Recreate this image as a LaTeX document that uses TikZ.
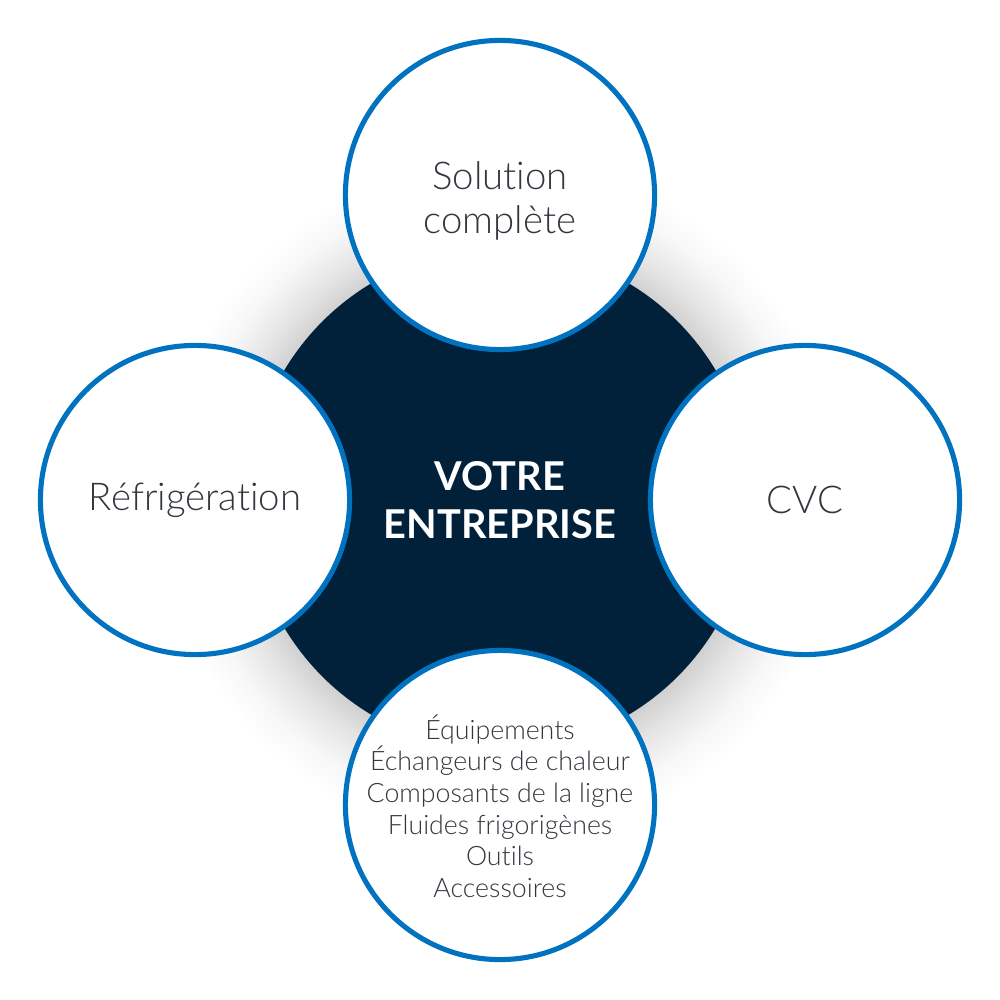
\documentclass[tikz,border=0pt]{standalone}
\usepackage{fontspec}
\newfontfamily\lightf{Lato Light}[Ligatures={NoCommon}]
\newfontfamily\headf{Lato Bold}[Ligatures={NoCommon}]
\definecolor{navy}{RGB}{1,32,58}
\definecolor{ringblue}{RGB}{0,114,192}
\definecolor{txtgray}{RGB}{50,55,61}
\definecolor{gA}{RGB}{208,208,208}
\definecolor{gB}{RGB}{228,228,228}
\definecolor{gC}{RGB}{247,247,247}
\pgfdeclareradialshading{glowshade}{\pgfpoint{0bp}{0bp}}{color(0bp)=(gA); color(18.4bp)=(gA); color(20.3bp)=(gB); color(22.8bp)=(gC); color(25bp)=(white); color(50bp)=(white)}
\tikzset{
  petal/.style={circle, draw=ringblue, line width=1.45pt, fill=white, minimum size=3.09cm, inner sep=0pt},
  lbl/.style={text=txtgray, align=center, inner sep=0pt},
  bigtxt/.style={lbl, font=\lightf\fontsize{10.9}{12.5}\selectfont},
  smalltxt/.style={lbl, font=\lightf\fontsize{7.6}{9}\selectfont},
  headtxt/.style={text=white, align=center, inner sep=0pt, font=\headf\fontsize{11.3}{13.7}\selectfont}
}
\begin{document}
\begin{tikzpicture}[x=0.01cm,y=-0.01cm]
\useasboundingbox (0,0) rectangle (1000,1000);
\fill[white] (0,0) rectangle (1000,1000);
\shade[shading=glowshade] (500,500) circle (3.4cm);
\node[circle, fill=navy, minimum size=5.02cm, inner sep=0pt] (core) at (500,499) {};
\node[petal] (top) at (500,195) {};
\node[petal] (left) at (195,500) {};
\node[petal] (right) at (805,500) {};
\node[petal] (bottom) at (500,805) {};
\node[headtxt] (title) at (500,500) {VOTRE\\ENTREPRISE};
\node[bigtxt] (toptxt) at (500,201) {Solution\\complète};
\node[bigtxt] (lefttxt) at (195,500) {Réfrigération};
\node[bigtxt] (righttxt) at (805,500) {CVC};
\node[smalltxt] (bottomtxt) at (500,806) {Équipements\\Échangeurs de chaleur\\Composants de la ligne\\Fluides frigorigènes\\Outils\\Accessoires};
\end{tikzpicture}
\end{document}
